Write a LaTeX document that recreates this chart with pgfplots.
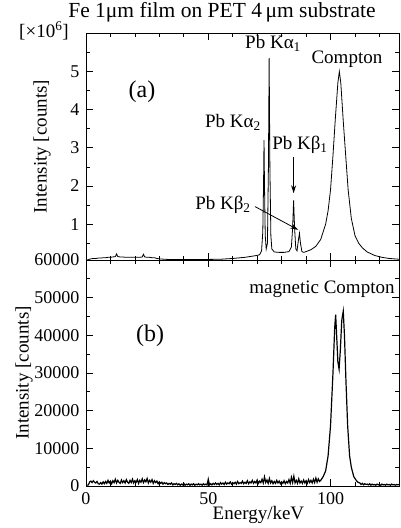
\documentclass[border=0pt]{standalone}
\usepackage{fontspec}
\setmainfont{Liberation Serif}
\usepackage{pgfplots}
\pgfplotsset{compat=1.18}
\usetikzlibrary{arrows.meta}

\begin{document}
\fontsize{19}{21}\selectfont
\begin{tikzpicture}
\path[use as bounding box] (0pt,0pt) rectangle (400pt,528pt);
\pgfplotsset{
  common/.style={
    scale only axis, width=313pt, anchor=south west,
    xmin=0, xmax=128,
    tick align=inside,
    major tick length=7pt, minor tick length=4pt,
    xtick={0,50,100},
    minor xtick={10,20,30,40,60,70,80,90,110,120},
    axis line style={line width=0.8pt},
    every tick/.style={black, line width=0.7pt},
    tick label style={font=\fontsize{18}{20}\selectfont},
    label style={font=\fontsize{19}{21}\selectfont},
    /pgf/number format/assume math mode=true,
    /pgf/number format/1000 sep={},
    scaled y ticks=false,
  }
}
\begin{axis}[common, name=top,
  at={(86pt,268pt)}, height=226.7pt,
  ymin=0.06, ymax=6,
  xticklabels={},
  ytick={0.06,1,2,3,4,5},
  yticklabels={60000,1,2,3,4,5},
  minor ytick={0.5,1.5,2.5,3.5,4.5,5.5},
  ylabel={Intensity [counts]},
  ylabel style={at={(axis description cs:-0.1406,0.5)}, anchor=center},
]
\addplot[black, line width=0.8pt, no marks] coordinates {
(0.5,0.06) (1,0.07) (2,0.09) (3,0.10) (4,0.10) (5,0.11) (6,0.11) (7,0.12) (8,0.12) (9,0.13)
(10,0.13) (11,0.14) (12,0.15) (12.5,0.22) (13,0.15) (14,0.14) (15,0.14) (16,0.13) (17,0.13)
(18,0.13) (19,0.13) (20,0.13) (21,0.13) (22,0.13) (23,0.14) (23.5,0.21) (24,0.14) (25,0.13)
(26,0.13) (27,0.12) (28,0.12) (29,0.10) (30,0.09) (32,0.08) (35,0.07) (40,0.07) (45,0.07)
(50,0.075) (55,0.08) (60,0.10) (65,0.13) (68,0.16) (70,0.18) (71,0.20) (71.8,0.3)
(72.3,0.8) (72.6,2.0) (72.8,3.2) (73.0,2.0) (73.3,0.7) (73.7,0.35) (74.2,0.5) (74.6,2.5)
(74.9,5.35) (75.2,2.5) (75.6,0.7) (76.0,0.35) (77,0.27) (79,0.26) (81,0.26) (83,0.28)
(84,0.4) (84.5,0.9) (84.9,1.62) (85.3,0.9) (85.8,0.35) (86.3,0.3) (86.9,0.6) (87.3,0.76)
(87.7,0.5) (88.3,0.28) (89,0.26) (90,0.28) (92,0.33) (94,0.42) (96,0.6) (98,1.0) (99,1.35)
(100,1.9) (101,2.8) (102,3.8) (103,4.7) (103.6,5.0) (104.2,4.7) (105.2,3.7) (106.2,2.8)
(107.2,1.9) (108.5,1.15) (110,0.7) (111.5,0.5) (113,0.38) (115,0.27) (118,0.18) (121,0.13)
(124,0.10) (128,0.08)
};
\node at (axis cs:76.5,5.74) {Pb Kα\textsubscript{1}};
\node at (axis cs:106.7,5.32) {Compton};
\node at (axis cs:60.1,3.67) {Pb Kα\textsubscript{2}};
\node at (axis cs:87.5,3.07) {Pb Kβ\textsubscript{1}};
\node at (axis cs:56.0,1.5) {Pb Kβ\textsubscript{2}};
\node[font=\fontsize{24}{26}\selectfont] at (axis cs:22.9,4.48) {(a)};
\draw[line width=0.8pt, -{Stealth[length=8pt,width=5pt]}] (axis cs:84.9,2.76) -- (axis cs:84.9,1.81);
\draw[line width=0.8pt, -{Stealth[length=8pt,width=5pt]}] (axis cs:69.1,1.46) -- (axis cs:86.8,0.85);
\end{axis}

\begin{axis}[common, name=bot,
  at={(86pt,42pt)}, height=226pt,
  ymin=0, ymax=60000,
  xticklabels={0,50,100},
  ytick={0,10000,20000,30000,40000,50000},
  minor ytick={5000,15000,25000,35000,45000,55000},
  ylabel={Intensity [counts]},
  ylabel style={at={(axis description cs:-0.198,0.5)}, anchor=center},
  xlabel={Energy/keV},
  xlabel style={at={(axis description cs:0.551,0)}, anchor=center, yshift=-29pt},
]
\addplot[black, line width=1.2pt, no marks] coordinates {
(0.5,200) (1,300) (1.5,1100) (2,1300) (2.5,900) (3,1400) (3.5,1000) (4,800) (4.5,1200) (5,600)
(5.5,500) (6,900) (6.5,500) (7,1100) (7.5,600) (8,1200) (8.5,700) (9,1500) (9.5,800) (10,1300)
(10.5,600) (11,1400) (11.5,900) (12,1800) (12.5,800) (13,1500) (13.5,1000) (14,700) (14.5,1600)
(15,900) (15.5,1400) (16,800) (16.5,1700) (17,1000) (17.5,700) (18,1500) (18.5,900) (19,1800)
(19.5,800) (20,1400) (20.5,1000) (21,1700) (21.5,700) (22,1500) (22.5,1000) (23,1900) (23.5,900)
(24,1600) (24.5,1100) (25,2000) (25.5,800) (26,1500) (26.5,1000) (27,1700) (27.5,700) (28,1400)
(28.5,900) (29,1300) (29.5,600) (30,1100) (30.5,700) (31,1000) (31.5,500) (32,900) (32.5,600)
(33,800) (33.5,400) (34,700) (34.5,500) (35,800) (35.5,300) (36,600) (36.5,400) (37,700)
(37.5,300) (38,600) (38.5,200) (39,500) (39.5,300) (40,700) (40.5,200) (41,500) (41.5,300)
(42,600) (42.5,200) (43,500) (43.5,300) (44,600) (44.5,200) (45,500) (45.5,300) (46,600)
(46.5,300) (47,500) (47.5,200) (48,600) (48.5,300) (49,500) (49.5,300) (50,1800) (50.5,300)
(51,600) (51.5,300) (52,700) (52.5,400) (53,800) (53.5,400) (54,700) (54.5,300) (55,900)
(55.5,500) (56,800) (56.5,400) (57,1000) (57.5,500) (58,800) (58.5,600) (59,1100) (59.5,500)
(60,900) (60.5,600) (61,1000) (61.5,500) (62,1200) (62.5,600) (63,900) (63.5,700) (64,1300)
(64.5,600) (65,1000) (65.5,700) (66,1400) (66.5,600) (67,1100) (67.5,800) (68,1500) (68.5,700)
(69,1200) (69.5,800) (70,1600) (70.5,700) (71,1300) (71.5,900) (72,1800) (72.5,800) (73,2400)
(73.5,900) (74,1600) (74.5,700) (75,2000) (75.5,800) (76,1400) (76.5,600) (77,1200) (77.5,700)
(78,1500) (78.5,800) (79,1300) (79.5,600) (80,1100) (80.5,700) (81,1400) (81.5,600) (82,1200)
(82.5,800) (83,1700) (83.5,700) (84,2300) (84.5,900) (85,2600) (85.5,800) (86,1500) (86.5,700)
(87,1900) (87.5,800) (88,1300) (88.5,700) (89,1600) (89.5,800) (90,1400) (90.5,700) (91,1700)
(91.5,900) (92,1500) (92.5,800) (93,1800) (93.5,900) (94,2100) (94.5,1000) (95,1900) (95.5,1200)
(96,1500) (97,2500) (98,4000) (99,8000) (100,16000) (101,30000) (101.7,42000) (102.1,45500)
(102.5,40000) (103,33000) (103.5,31000) (104,36000) (104.6,44000) (105.2,46400) (105.7,40000)
(106.3,28000) (107,16000) (107.8,8000) (108.5,5000) (109.5,2500) (110.5,1500) (111.2,1000)
(112,800) (112.5,400) (113,700) (113.5,300) (114,600) (114.5,400) (115,500) (115.5,300)
(116,600) (116.5,200) (117,500) (117.5,300) (118,400) (118.5,200) (119,500) (119.5,300)
(120,400) (120.5,200) (121,500) (121.5,300) (122,400) (122.5,200) (123,500) (123.5,300)
(124,400) (124.5,200) (125,500) (125.5,300) (126,400) (126.5,200) (127,400) (127.5,300) (128,400)
};
\node at (axis cs:96.5,52300) {magnetic Compton};
\node[font=\fontsize{24}{26}\selectfont] at (axis cs:26.2,39800) {(b)};
\end{axis}

\node[font=\fontsize{21.5}{23}\selectfont] at (222pt,516pt) {Fe 1μm film on PET 4\,μm substrate};
\node at (44pt,497pt) {[×10\textsuperscript{6}]};
\end{tikzpicture}
\end{document}
